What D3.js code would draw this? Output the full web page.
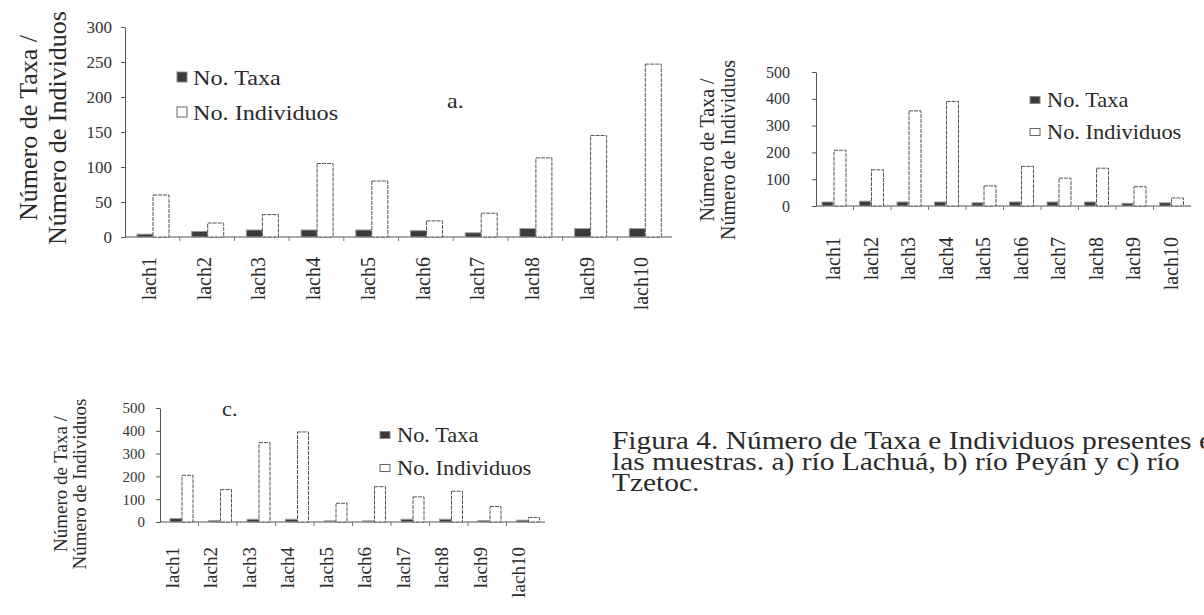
<!DOCTYPE html>
<html><head><meta charset="utf-8">
<script src="https://cdn.jsdelivr.net/npm/d3@7"></script>
<style>body{margin:0;background:#fff}svg{display:block}</style>
</head><body>
<svg id="fig" width="1204" height="615"></svg>
<script>
const categories = ["lach1","lach2","lach3","lach4","lach5","lach6","lach7","lach8","lach9","lach10"];
const taxaA  = [4, 8, 10, 10, 10, 9, 6, 12, 12, 12];
const indivA = [60, 20, 32, 105, 80, 23, 34, 113, 145, 247];
const taxaB  = [15, 18, 15, 15, 12, 15, 15, 15, 10, 12];
const indivB = [208, 135, 355, 390, 75, 148, 104, 141, 72, 30];
const taxaC  = [15, 6, 12, 12, 5, 5, 12, 12, 6, 8];
const indivC = [205, 142, 348, 395, 82, 155, 110, 135, 68, 20];
const yTicksA = [0, 50, 100, 150, 200, 250, 300];
const yTicksBC = [0, 100, 200, 300, 400, 500];
const seriesNames = ["No. Taxa", "No. Individuos"];
const titleLines = ["Número de Taxa /", "Número de Individuos"];
const panelLabels = ["a.", "c."];
const captionLines = [
  "Figura 4. Número de Taxa e Individuos presentes en",
  "las muestras. a) río Lachuá, b) río Peyán y c) río",
  "Tzetoc."
];

const svg = d3.select("#fig");
const FONT = "'Liberation Serif', 'Times New Roman', serif";
const INK = "#2a2a2a";

function drawChart(cfg, taxa, indiv, ticks) {
  const g = svg.append("g");
  const x = d3.scaleBand().domain(categories).range([cfg.x0, cfg.x1]);
  const y = d3.scaleLinear().domain([0, ticks[ticks.length-1]]).range([cfg.yBottom, cfg.yTop]);

  const ya = g.append("g").attr("transform", `translate(${cfg.x0},0)`)
    .call(d3.axisLeft(y).tickValues(ticks).tickSize(4).tickSizeOuter(0).tickPadding(cfg.tickPad));
  ya.select(".domain").attr("stroke", "#555");
  ya.selectAll(".tick line").attr("stroke", "#555");
  ya.selectAll(".tick text").attr("font-family", FONT).attr("font-size", cfg.tickFont).attr("fill", "#333");

  g.append("line").attr("x1", cfg.x0).attr("x2", cfg.x1)
    .attr("y1", y(0)).attr("y2", y(0)).attr("stroke", "#555");
  g.selectAll(".xt").data(categories.slice(1)).enter().append("line")
    .attr("x1", d => x(d)).attr("x2", d => x(d))
    .attr("y1", y(0)).attr("y2", y(0) + 4).attr("stroke", "#777");

  g.selectAll(".tb").data(categories).enter().append("rect")
    .attr("x", d => x(d) + cfg.tOff).attr("width", cfg.tW)
    .attr("y", (d, i) => y(taxa[i])).attr("height", (d, i) => y(0) - y(taxa[i]))
    .attr("fill", "#3a3a3a").attr("stroke", "#9a9a9a").attr("stroke-width", 1);
  g.selectAll(".ib").data(categories).enter().append("rect")
    .attr("x", d => x(d) + cfg.iOff).attr("width", cfg.iW)
    .attr("y", (d, i) => y(indiv[i])).attr("height", (d, i) => y(0) - y(indiv[i]))
    .attr("fill", "#fff").attr("stroke", "#555").attr("stroke-width", 1).attr("stroke-dasharray", "4,1");

  g.selectAll(".xl").data(categories).enter().append("text")
    .attr("transform", d => `translate(${x(d) + cfg.labOff},${cfg.labTop}) rotate(-90)`)
    .attr("text-anchor", "end").attr("dy", "0.35em")
    .attr("font-family", FONT).attr("font-size", cfg.labFont).attr("fill", INK)
    .text(d => d);

  titleLines.forEach((t, i) => {
    g.append("text")
      .attr("transform", `translate(${cfg.titleX[i]},${cfg.titleY}) rotate(-90)`)
      .attr("text-anchor", "middle").attr("dy", "0.35em")
      .attr("font-family", FONT).attr("font-size", cfg.titleFont).attr("fill", INK)
      .text(t);
  });

  const lg = g.append("g");
  seriesNames.forEach((s, i) => {
    const cy = cfg.legY[i];
    lg.append("rect").attr("x", cfg.legX).attr("y", cy - cfg.legH/2)
      .attr("width", cfg.legW).attr("height", cfg.legH)
      .attr("fill", i === 0 ? "#3a3a3a" : "#fff").attr("stroke", i === 0 ? "#888" : "#666");
    lg.append("text").attr("x", 0).attr("y", 0).attr("dy", "0.35em")
      .attr("transform", `translate(${cfg.legTextX},${cy}) scale(${cfg.stretch},1)`)
      .attr("font-family", FONT).attr("font-size", cfg.legFont).attr("fill", INK).text(s);
  });
  if (cfg.panel) {
    g.append("text").attr("transform", `translate(${cfg.panel.x},${cfg.panel.y}) scale(${cfg.stretch},1)`)
      .attr("dy", "0.35em").attr("font-family", FONT).attr("font-size", cfg.legFont)
      .attr("fill", INK).text(cfg.panel.t);
  }
}

drawChart({x0:125, x1:672, yTop:27, yBottom:237, tickPad:9, tickFont:17,
  tOff:12, tW:16, iOff:28, iW:16, labOff:24, labTop:257, labFont:20,
  titleX:[28, 57], titleY:128, titleFont:26,
  legX:177, legW:10, legH:10, legY:[77,112], legTextX:193, legFont:22, stretch:1.1,
  panel:{x:447, y:100, t:panelLabels[0]}}, taxaA, indivA, yTicksA);

drawChart({x0:816, x1:1191, yTop:72, yBottom:206, tickPad:22, tickFont:16,
  tOff:6, tW:11, iOff:18, iW:12, labOff:17, labTop:237, labFont:20,
  titleX:[707, 728], titleY:150, titleFont:20,
  legX:1030, legW:10, legH:7, legY:[100,132], legTextX:1047, legFont:20, stretch:1.12}, taxaB, indivB, yTicksBC);

drawChart({x0:160, x1:545, yTop:408, yBottom:522, tickPad:11, tickFont:15,
  tOff:10, tW:12, iOff:22, iW:11, labOff:12, labTop:547, labFont:19,
  titleX:[60, 79], titleY:484, titleFont:19,
  legX:380, legW:10, legH:7, legY:[435,468], legTextX:397, legFont:20, stretch:1.12,
  panel:{x:222, y:409, t:panelLabels[1]}}, taxaC, indivC, yTicksBC);

const CAPF = 26;
const cap = svg.append("g");
const probe = cap.append("text").attr("font-family", FONT).attr("font-size", CAPF)
  .text("Figura 4. Número de Taxa e Individuos presentes");
const natural = probe.node().getComputedTextLength();
probe.remove();
const k = 580 / natural;
cap.attr("transform", `translate(612,0) scale(${k},1)`);
captionLines.forEach((t, i) => {
  cap.append("text").attr("x", 0).attr("y", 449 + i * 21)
    .attr("font-family", FONT).attr("font-size", CAPF).attr("fill", INK).text(t);
});
</script>
</body></html>
